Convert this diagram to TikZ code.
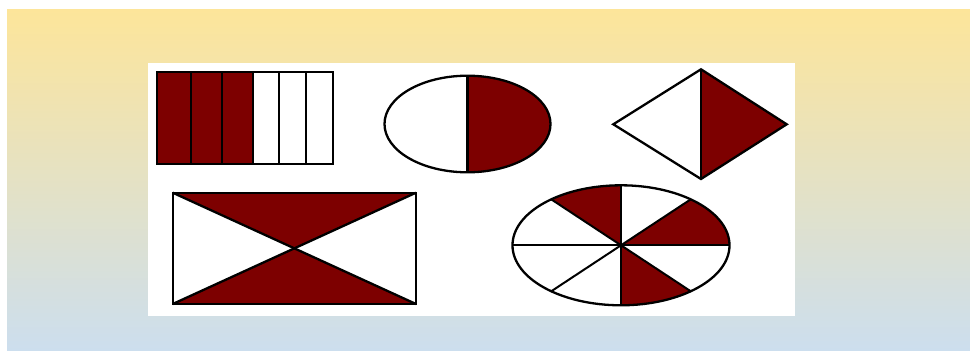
\documentclass[tikz,border=0pt]{standalone}
\usepackage{tikz}
\definecolor{dred}{RGB}{125,0,0}
\definecolor{bgtop}{RGB}{253,229,154}
\definecolor{bgbot}{RGB}{204,222,238}
\begin{document}
\begin{tikzpicture}[x=1pt,y=-1pt,
  outl/.style={draw=black,line width=2.3pt,line join=miter},
  inner/.style={draw=black,line width=2pt}]
\useasboundingbox (0,0) rectangle (970,351);
\fill[white] (0,0) rectangle (970,351);
\shade[top color=bgtop,bottom color=bgbot] (7,9) rectangle (970,351);
\fill[white] (148,62.5) rectangle (795,315.7);

% striped rectangle
\fill[dred] (157,72.3) rectangle (253.3,164.3);
\foreach \xx in {190.7,222.3,253.3,279.3,305.7}
  \draw[inner] (\xx,72.3) -- (\xx,164.3);
\draw[outl] (157,72.3) rectangle (333.3,164.3);

% half ellipse
\coordinate (e1) at (467.5,124);
\begin{scope}
  \clip (467.5,60) rectangle (600,190);
  \fill[dred] (e1) ellipse [x radius=83, y radius=48.3];
\end{scope}
\draw[outl] (e1) ellipse [x radius=83, y radius=48.3];
\draw[outl] (467.5,75.7) -- (467.5,172.3);

% diamond
\coordinate (dl) at (613.3,124.3);
\coordinate (dt) at (701,69.3);
\coordinate (dr) at (786.7,124.3);
\coordinate (db) at (701,179);
\fill[dred] (dt) -- (dr) -- (db) -- cycle;
\draw[outl] (dl) -- (dt) -- (dr) -- (db) -- cycle;
\draw[outl] (dt) -- (db);

% hourglass rectangle
\coordinate (r1) at (172.7,192.7);
\coordinate (r2) at (416,192.7);
\coordinate (r3) at (416,304);
\coordinate (r4) at (172.7,304);
\coordinate (rc) at (294.3,248.3);
\fill[dred] (r1) -- (r2) -- (rc) -- cycle;
\fill[dred] (r4) -- (r3) -- (rc) -- cycle;
\draw[outl] (r1) -- (r3);
\draw[outl] (r2) -- (r4);
\draw[outl] (r1) rectangle (r3);

% eighths ellipse
\coordinate (c) at (621,245.3);
\foreach \a/\b in {-130/-90, -50/0, 50/90} {
  \fill[dred] (c) -- ++(\a:108.5 and 60) arc[start angle=\a, end angle=\b, x radius=108.5, y radius=60] -- cycle;
}
\foreach \a in {0,50,90,130,180,230,270,310}
  \draw[inner] (c) -- ++(\a:108.5 and 60);
\draw[outl] (c) ellipse [x radius=108.5, y radius=60];
\end{tikzpicture}
\end{document}
